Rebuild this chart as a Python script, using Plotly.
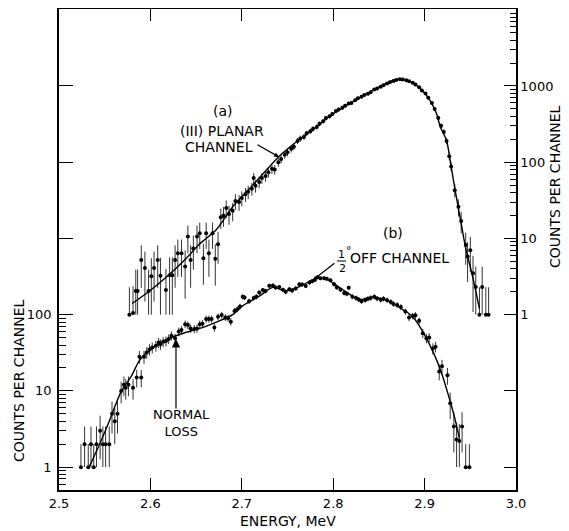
import numpy as np
import plotly.graph_objects as go

# ---------------- data ----------------
# (b) 1/2 deg off channel -- left axis
energy_b = [2.524, 2.528, 2.532, 2.535, 2.538, 2.541, 2.545, 2.548, 2.551, 2.555,
            2.558, 2.561, 2.564, 2.568, 2.571, 2.573, 2.576, 2.581, 2.585, 2.588,
            2.590, 2.593, 2.596, 2.599, 2.602, 2.606, 2.609, 2.611, 2.614, 2.617,
            2.620, 2.623, 2.627, 2.631, 2.634, 2.638, 2.641, 2.644, 2.648, 2.651,
            2.654, 2.657, 2.661, 2.664, 2.667, 2.670, 2.674, 2.678, 2.682, 2.685,
            2.688, 2.692, 2.695, 2.698, 2.701, 2.703, 2.708, 2.713, 2.716, 2.719,
            2.723, 2.726, 2.730, 2.734, 2.737, 2.741, 2.745, 2.748, 2.752, 2.755,
            2.759, 2.763, 2.766, 2.770, 2.774, 2.777, 2.780, 2.783, 2.786, 2.790,
            2.793, 2.797, 2.801, 2.804, 2.808, 2.812, 2.815, 2.817, 2.821, 2.825,
            2.828, 2.831, 2.835, 2.838, 2.841, 2.845, 2.848, 2.852, 2.855, 2.859,
            2.863, 2.866, 2.870, 2.874, 2.879, 2.883, 2.887, 2.890, 2.894, 2.898,
            2.902, 2.905, 2.909, 2.912, 2.916, 2.919, 2.925, 2.928, 2.932, 2.935,
            2.938, 2.941, 2.945, 2.949]
counts_b = [1, 2, 1, 2, 1, 2, 3, 2, 2, 2,
            5, 4, 5, 10, 12, 11, 12, 11, 15, 28,
            15, 28, 32, 35, 37, 39, 43, 41, 44, 45,
            48, 53, 49, 60, 63, 75, 73, 66, 65, 66,
            75, 76, 88, 88, 88, 68, 94, 99, 92, 90,
            81, 112, 118, 128, 172, 168, 150, 165, 172, 195,
            210, 205, 240, 242, 228, 230, 212, 200, 215, 208,
            220, 250, 248, 238, 265, 275, 285, 310, 300, 300,
            295, 282, 250, 228, 212, 192, 188, 225, 172, 165,
            158, 150, 156, 162, 166, 172, 163, 157, 162, 155,
            147, 138, 134, 126, 110, 92, 96, 98, 83, 57,
            49, 50, 36, 38, 18, 21, 16, 6.9, 3.4, 2.3,
            2.2, 3.4, 1, 1]
fit_energy_b = [2.533, 2.544, 2.555, 2.568, 2.579, 2.588, 2.599, 2.610, 2.621, 2.636,
                2.654, 2.672, 2.690, 2.700, 2.710, 2.720, 2.734, 2.748, 2.763, 2.772,
                2.781, 2.792, 2.803, 2.814, 2.829, 2.843, 2.858, 2.868, 2.877, 2.887,
                2.898, 2.909, 2.918, 2.927, 2.933, 2.938]
fit_counts_b = [1.0, 1.95, 4.0, 9.8, 15.5, 25, 34, 42, 49, 57,
                66, 80, 100, 128, 152, 178, 228, 205, 233, 265,
                298, 295, 245, 200, 157, 170, 155, 134, 115, 94,
                60, 33, 18, 8.0, 4.4, 2.4]

# (a) (III) planar channel -- right axis
energy_a = [2.577, 2.581, 2.584, 2.586, 2.590, 2.594, 2.598, 2.601, 2.604, 2.608,
            2.611, 2.617, 2.621, 2.624, 2.627, 2.630, 2.634, 2.638, 2.641, 2.644,
            2.647, 2.651, 2.654, 2.658, 2.661, 2.664, 2.668, 2.671, 2.674,
            2.677, 2.680, 2.683, 2.686, 2.690, 2.693, 2.697, 2.700, 2.704, 2.707,
            2.711, 2.713, 2.715, 2.719, 2.722, 2.726, 2.729, 2.733, 2.736, 2.740,
            2.743, 2.747, 2.750, 2.754, 2.757, 2.761, 2.764, 2.768, 2.771, 2.775,
            2.778, 2.782, 2.785, 2.789, 2.792, 2.796, 2.799, 2.803, 2.806, 2.810,
            2.813, 2.817, 2.820, 2.824, 2.827, 2.831, 2.834, 2.838, 2.841, 2.845,
            2.848, 2.852, 2.855, 2.859, 2.862, 2.866, 2.869, 2.873, 2.876, 2.880,
            2.883, 2.887, 2.890, 2.894, 2.897, 2.901, 2.904, 2.908, 2.911, 2.915,
            2.918, 2.921, 2.924, 2.927, 2.929, 2.933, 2.937, 2.940, 2.945, 2.947,
            2.950, 2.953, 2.956, 2.960, 2.963, 2.967, 2.970]
counts_a = [1.0, 1.05, 2.05, 2.05, 5.2, 4.1, 2.05, 3.2, 4.1, 5.2,
            3.25, 2.1, 3.3, 3.3, 5.2, 6.4, 6.4, 4.3, 10.6, 5.2,
            7.4, 10.6, 11.7, 5.5, 11.7, 6.4, 11.7, 5.4, 8.4,
            19, 20, 25, 21, 23, 31, 30, 34, 38, 41,
            45, 62, 49, 55, 62, 66, 74, 82, 80, 100,
            110, 125, 135, 150, 160, 190, 205, 215, 240, 255,
            275, 290, 320, 345, 380, 400, 430, 470, 490, 520,
            550, 590, 600, 650, 690, 720, 760, 790, 830, 900,
            930, 980, 1020, 1080, 1120, 1160, 1200, 1230, 1220, 1190,
            1150, 1100, 1050, 960, 870, 800, 700, 600, 500, 380,
            300, 250, 190, 120, 88, 43, 26, 17, 8.2, 5.8,
            7.0, 3.5, 2.3, 1.0, 2.3, 1.0, 1.0]
fit_energy_a = [2.580, 2.598, 2.616, 2.638, 2.654, 2.672, 2.690, 2.712, 2.741, 2.760,
                2.778, 2.796, 2.815, 2.833, 2.851, 2.865, 2.873, 2.880, 2.891, 2.902,
                2.913, 2.917, 2.924, 2.929, 2.934, 2.940, 2.945, 2.953, 2.960]
fit_counts_a = [1.4, 2.0, 3.0, 5.3, 8.5, 13, 26, 50, 120, 186,
                270, 400, 560, 750, 980, 1180, 1240, 1200, 1024, 760,
                437, 295, 193, 88, 39, 15.8, 7.4, 3.0, 1.2]

x_tickvals = [2.5, 2.6, 2.7, 2.8, 2.9, 3.0]
x_ticktext = ["2.5", "2.6", "2.7", "2.8", "2.9", "3.0"]
left_tickvals = [1, 10, 100, 1000, 1e4, 1e5]
left_ticktext = ["1", "10", "100", "", "", ""]
right_tickvals = [0.01, 0.1, 1, 10, 100, 1000]
right_ticktext = ["", "", "1", "10", "100", "1000"]

# ---------------- helpers ----------------
vb = np.array(counts_b, dtype=float)
eb_up = np.sqrt(vb)
eb_dn = np.minimum(np.sqrt(vb), np.maximum(vb - 1.0, 0.0))
va = np.array(counts_a, dtype=float)
ea_up = np.sqrt(va / 0.6)
ea_dn = np.minimum(ea_up, np.maximum(va - 1.0, 0.0))

left_minor = [0.6, 0.7, 0.8, 0.9] + [k for k in range(2, 10)] + [10 * k for k in range(2, 10)]
right_minor = [k * 10 ** d for d in range(0, 4) for k in range(2, 10)]

FONT = "DejaVu Sans"
INK = "black"

fig = go.Figure()
fig.add_trace(go.Scatter(
    x=energy_b, y=counts_b, mode="markers", yaxis="y",
    marker=dict(color=INK, size=4),
    error_y=dict(type="data", array=eb_up, arrayminus=eb_dn, symmetric=False,
                 color="#333333", thickness=1, width=0),
    hoverinfo="skip"))
fig.add_trace(go.Scatter(
    x=fit_energy_b, y=fit_counts_b, mode="lines", yaxis="y",
    line=dict(color=INK, width=1.4, shape="spline", smoothing=0.9),
    hoverinfo="skip"))
fig.add_trace(go.Scatter(
    x=energy_a, y=counts_a, mode="markers", yaxis="y2",
    marker=dict(color=INK, size=4),
    error_y=dict(type="data", array=ea_up, arrayminus=ea_dn, symmetric=False,
                 color="#333333", thickness=1, width=0),
    hoverinfo="skip"))
fig.add_trace(go.Scatter(
    x=fit_energy_a, y=fit_counts_a, mode="lines", yaxis="y2",
    line=dict(color=INK, width=1.4, shape="spline", smoothing=0.8),
    hoverinfo="skip"))

# the page body adds an 8 px margin, so the figure is drawn 8 px smaller
OFF = 8
W, H = 569 - OFF, 531 - OFF
L, R, T, B = 59 - OFF, 53, 9 - OFF, 41
PW, PH = W - L - R, H - T - B


def px(xp):
    return (xp - OFF - L) / PW


def py(yp):
    return (H - B - (yp - OFF)) / PH


axis_common = dict(showgrid=False, zeroline=False, showline=True, linecolor=INK,
                   linewidth=1.5, ticks="inside", tickcolor=INK, tickwidth=1.3,
                   tickfont=dict(family=FONT, size=13, color=INK))

fig.update_layout(
    width=W, height=H, margin=dict(l=L, r=R, t=T, b=B, autoexpand=False),
    paper_bgcolor="white", plot_bgcolor="white", showlegend=False,
    font=dict(family=FONT, size=14, color=INK),
    xaxis=dict(range=[2.5, 3.0], tickmode="array", tickvals=x_tickvals, ticktext=x_ticktext,
               ticklen=12, mirror="ticks", ticklabelstandoff=1, **axis_common),
    yaxis=dict(type="log", range=[-0.30, 6.01], tickmode="array", tickvals=left_tickvals,
               ticktext=left_ticktext, ticklen=14, ticklabelstandoff=3,
               minor=dict(tickmode="array", tickvals=left_minor, ticks="inside",
                          ticklen=7, tickcolor=INK, tickwidth=1, showgrid=False),
               **axis_common),
    yaxis2=dict(type="log", range=[-2.30, 4.01], overlaying="y", side="right", anchor="x",
                tickmode="array", tickvals=right_tickvals, ticktext=right_ticktext,
                ticklen=12, ticklabelstandoff=0,
                minor=dict(tickmode="array", tickvals=right_minor, ticks="inside",
                           ticklen=6, tickcolor=INK, tickwidth=1, showgrid=False),
                **axis_common),
)

ann = []


def text(s, x, y, size=14, angle=0, **kw):
    ann.append(dict(text=s, x=px(x), y=py(y), xref="paper", yref="paper", showarrow=False,
                    textangle=angle, font=dict(family=FONT, size=size, color=INK),
                    xanchor="center", yanchor="middle", **kw))


def arrow(tip, tail, head=2, size=1.0, width=1.2):
    ann.append(dict(text="", x=px(tip[0]), y=py(tip[1]), xref="paper", yref="paper",
                    showarrow=True, ax=tail[0] - tip[0], ay=tail[1] - tip[1],
                    arrowhead=head, arrowsize=size, arrowwidth=width, arrowcolor=INK))


text("(a)", 223, 111)
text("(III) PLANAR", 222, 131)
text("CHANNEL", 219, 147)
arrow((279, 157), (256, 144), head=2, size=0.8)

text("(b)", 393, 233)
text("1", 341, 254, size=11)
text("2", 342, 268, size=11)
text("°", 349, 250, size=11)
text("OFF CHANNEL", 399, 258)
arrow((313, 280), (336, 262), head=2, size=0.7)

text("NORMAL<br>LOSS", 181, 423, size=13)
arrow((176, 339), (176, 410), head=2, size=1.4)

text("ENERGY, MeV", 288, 521)
text("COUNTS PER CHANNEL", 19, 381, angle=-90)
text("COUNTS PER CHANNEL", 555, 187, angle=-90)

fig.update_layout(annotations=ann)
fig.add_shape(type="line", xref="paper", yref="paper", x0=px(337), x1=px(346),
              y0=py(261), y1=py(261), line=dict(color=INK, width=1))

fig.write_html("out.html")
